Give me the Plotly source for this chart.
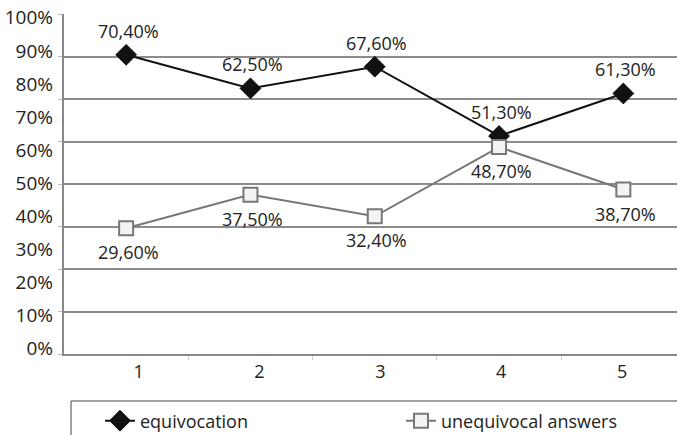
import numpy as np
import plotly.graph_objects as go

# Survey results per question (share of respondents, %)
categories = [1, 2, 3, 4, 5]
x_tick_labels = ["1", "2", "3", "4", "5"]
equivocation = [70.4, 62.5, 67.6, 51.3, 61.3]
unequivocal = [29.6, 37.5, 32.4, 48.7, 38.7]
y_tick_labels = ["0%", "10%", "20%", "30%", "40%", "50%", "60%", "70%", "80%", "90%", "100%"]

FONT = "Open Sans"
TXT = "#222222"
PLOT_L, PLOT_W = 64, 613
PLOT_B, PLOT_H = 354, 340


def pct(v):
    return f"{v:.2f}".replace(".", ",") + "%"


def px_x(px):
    return (px - PLOT_L) / PLOT_W


def px_y(py):
    return (PLOT_B - py) / PLOT_H


# one category ≈ 124.3 px wide
x_range = [0.5, 0.5 + PLOT_W / 124.3]
y_range = [0, 80]
grid_vals = list(range(0, 81, 10))
ylabel_pos = np.linspace(1.4, 79.1, len(y_tick_labels))
xlabel_pos = np.linspace(1.1, 4.99, len(x_tick_labels))

fig = go.Figure()
fig.add_trace(go.Scatter(
    x=categories, y=equivocation, name="equivocation",
    mode="lines+markers", legend="legend",
    line=dict(color="#111111", width=2),
    marker=dict(symbol="diamond", size=16, color="#111111",
                line=dict(color="#111111", width=1)),
))
fig.add_trace(go.Scatter(
    x=categories, y=unequivocal, name="unequivocal answers",
    mode="lines+markers", legend="legend2",
    line=dict(color="#777777", width=2),
    marker=dict(symbol="square", size=14, color="#f3f3f3",
                line=dict(color="#777777", width=2)),
))
# carrier for the label axes
fig.add_trace(go.Scatter(x=[], y=[], xaxis="x2", yaxis="y2",
                         showlegend=False, hoverinfo="skip"))

annotations = []
for c, v in zip(categories, equivocation):
    annotations.append(dict(x=c, y=v, text=pct(v), showarrow=False,
                            yshift=24, xshift=2,
                            font=dict(family=FONT, size=18, color=TXT)))
for c, v in zip(categories, unequivocal):
    annotations.append(dict(x=c, y=v, text=pct(v), showarrow=False,
                            yshift=-24, xshift=2,
                            font=dict(family=FONT, size=18, color=TXT)))

shapes = [
    # darker 40% gridline
    dict(type="line", xref="paper", yref="y", x0=0, x1=1, y0=40, y1=40,
         line=dict(color="#1a1a1a", width=1.3), layer="below"),
    # legend frame
    dict(type="rect", xref="paper", yref="paper",
         x0=px_x(71), x1=1.05, y0=px_y(401), y1=px_y(460),
         line=dict(color="#444444", width=1), fillcolor="rgba(0,0,0,0)"),
]

legend_style = dict(xanchor="left", yanchor="middle", y=px_y(421),
                    bgcolor="rgba(0,0,0,0)",
                    font=dict(family=FONT, size=18, color=TXT))

fig.update_layout(
    width=677, height=435,
    margin=dict(l=PLOT_L, r=677 - PLOT_L - PLOT_W, t=PLOT_B - PLOT_H,
                b=435 - PLOT_B, autoexpand=False),
    paper_bgcolor="white", plot_bgcolor="white",
    font=dict(family=FONT, size=18, color=TXT),
    xaxis=dict(range=x_range, tickvals=[1.5, 2.5, 3.5, 4.5], ticks="outside",
               ticklen=4, tickcolor="#cccccc", showticklabels=False,
               showline=True, linecolor="#888888", linewidth=1.5,
               showgrid=False, zeroline=False),
    xaxis2=dict(range=x_range, overlaying="x", anchor="y", side="bottom",
                tickvals=list(xlabel_pos), ticktext=x_tick_labels,
                ticks="", showline=False, showgrid=False, zeroline=False,
                ticklabelstandoff=5,
                tickfont=dict(family=FONT, size=18, color=TXT)),
    yaxis=dict(range=y_range, tickvals=grid_vals, ticks="outside", ticklen=4,
               tickcolor="#bbbbbb", showticklabels=False,
               showgrid=True, gridcolor="#8c8c8c", gridwidth=1.5,
               showline=True, linecolor="#888888", linewidth=1.5,
               zeroline=False),
    yaxis2=dict(range=y_range, overlaying="y", anchor="x", side="left",
                tickvals=list(ylabel_pos), ticktext=y_tick_labels,
                ticks="", showline=False, showgrid=False, zeroline=False,
                ticklabelstandoff=10,
                tickfont=dict(family=FONT, size=19, color=TXT)),
    legend=dict(x=px_x(100), **legend_style),
    legend2=dict(x=px_x(401), **legend_style),
    annotations=annotations,
    shapes=shapes,
    showlegend=True,
)

fig.write_html("out.html")
